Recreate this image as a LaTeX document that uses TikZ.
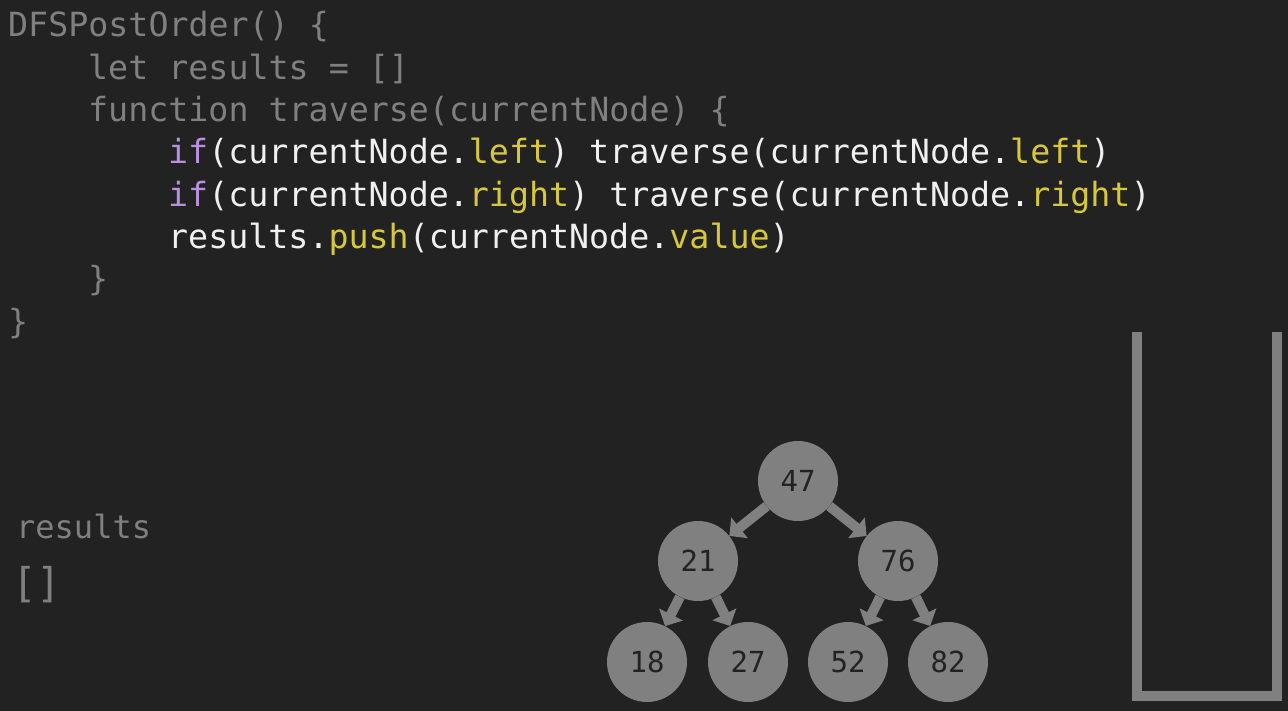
\documentclass[tikz,border=0pt]{standalone}
\usepackage{fontspec}
\setmonofont{DejaVu Sans Mono}
\usetikzlibrary{arrows.meta}
\definecolor{bg}{HTML}{222222}
\definecolor{dim}{HTML}{808080}
\definecolor{bright}{HTML}{F0F0F0}
\definecolor{kwpurple}{HTML}{B98FE0}
\definecolor{propyellow}{HTML}{D6C83A}
\definecolor{nodegray}{HTML}{808080}
\newcommand{\kw}[1]{\textcolor{kwpurple}{#1}}
\newcommand{\prop}[1]{\textcolor{propyellow}{#1}}

\begin{document}
\begin{tikzpicture}[x=1pt, y=-1pt,
  code/.style={anchor=base west, inner sep=0pt, font=\ttfamily\fontsize{33.3}{40}\selectfont},
  tnode/.style={circle, fill=nodegray, minimum size=80pt, inner sep=0pt, text=bg,
    font=\ttfamily\fontsize{29}{29}\selectfont},
  link/.style={line width=10pt, draw=nodegray, -{Triangle[length=13pt,width=26pt]}}]
  \fill[bg] (0,0) rectangle (1288,711);
  \useasboundingbox (0,0) rectangle (1288,711);

  % code
  \node[code, text=dim] (l1) at (8,37) {DFSPostOrder() \{};
  \node[code, text=dim] (l2) at (88,79.5) {let results = []};
  \node[code, text=dim] (l3) at (88,122) {function traverse(currentNode) \{};
  \node[code, text=bright] (l4) at (168,164)
    {\kw{if}(currentNode.\prop{left}) traverse(currentNode.\prop{left})};
  \node[code, text=bright] (l5) at (168,207)
    {\kw{if}(currentNode.\prop{right}) traverse(currentNode.\prop{right})};
  \node[code, text=bright] (l6) at (168,249)
    {results.\prop{push}(currentNode.\prop{value})};
  \node[code, text=dim] (l7) at (88,291) {\}};
  \node[code, text=dim] (l8) at (8,334) {\}};

  % results array
  \node[code, text=dim, font=\ttfamily\fontsize{32}{40}\selectfont] (res) at (16,538) {results};
  \node[code, text=dim, font=\ttfamily\fontsize{41}{48}\selectfont] (arr) at (12,597) {[]};

  % tree
  \node[tnode] (n47) at (798,481) {47};
  \node[tnode] (n21) at (698,561) {21};
  \node[tnode] (n76) at (898,561) {76};
  \node[tnode] (n18) at (647,662) {18};
  \node[tnode] (n27) at (748,662) {27};
  \node[tnode] (n52) at (848,662) {52};
  \node[tnode] (n82) at (948,662) {82};
  \draw[link] (n47) -- (n21);
  \draw[link] (n47) -- (n76);
  \draw[link] (n21) -- (n18);
  \draw[link] (n21) -- (n27);
  \draw[link] (n76) -- (n52);
  \draw[link] (n76) -- (n82);

  % stack
  \coordinate (stl) at (1137,332);
  \coordinate (str) at (1277,332);
  \draw[nodegray, line width=10pt, miter limit=10] (stl) -- (1137,696) -- (1277,696) -- (str);
\end{tikzpicture}
\end{document}
